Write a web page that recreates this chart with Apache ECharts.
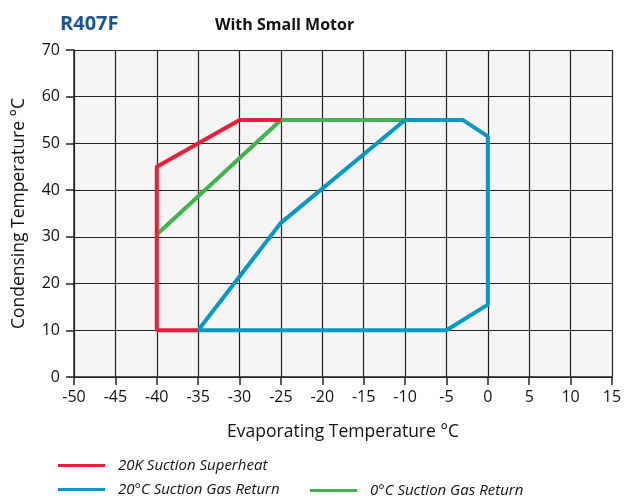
<!DOCTYPE html>
<html>
<head>
<meta charset="utf-8">
<script src="https://cdn.jsdelivr.net/npm/echarts@6/dist/echarts.min.js"></script>
<style>
  html, body { margin: 0; padding: 0; background: #fff; }
  #chart { width: 625px; height: 500px; }
</style>
</head>
<body>
<div id="chart"></div>
<script>
// envelope points [evaporating, condensing]
var superheat20K = [[-35, 10], [-40, 10], [-40, 45], [-30, 55], [-25, 55]];
var gasReturn20C = [[-35, 10], [-25, 33], [-10, 55], [-3, 55], [0, 51.5], [0, 15.5], [-5, 10], [-35, 10]];
var gasReturn0C = [[-40, 30.5], [-25, 55], [-10, 55]];

var seriesNames = ["20K Suction Superheat", "20°C Suction Gas Return", "0°C Suction Gas Return"];
var seriesColors = ["#ee1c3a", "#0399c6", "#3db54a"];

var fontFam = "'Open Sans', sans-serif";

var chart = echarts.init(document.getElementById("chart"));

function legendAt(name, left, top) {
  return {
    data: [{ name: name, icon: "rect" }],
    left: left,
    top: top,
    padding: 0,
    itemWidth: 47,
    itemHeight: 3,
    textStyle: {
      fontFamily: fontFam,
      fontSize: 15,
      fontStyle: "italic",
      color: "#111",
      padding: [0, 0, 0, 8]
    },
    selectedMode: false
  };
}

var option = {
  animation: false,
  title: [
    {
      text: "R407F",
      left: 60,
      top: 14,
      padding: 0,
      textStyle: { fontFamily: fontFam, fontSize: 20, fontWeight: "bold", color: "#1a5590" }
    },
    {
      text: "With Small Motor",
      left: 215,
      top: 17,
      padding: 0,
      textStyle: { fontFamily: fontFam, fontSize: 16, fontWeight: "bold", color: "#111" }
    }
  ],
  legend: [
    legendAt(seriesNames[0], 58, 458),
    legendAt(seriesNames[1], 58, 482),
    legendAt(seriesNames[2], 310, 483)
  ],
  grid: {
    left: 74,
    right: 13,
    top: 50,
    bottom: 123,
    show: true,
    backgroundColor: "#f5f5f5",
    borderWidth: 0
  },
  xAxis: {
    type: "value",
    min: -50,
    max: 15,
    interval: 5,
    name: "Evaporating Temperature °C",
    nameLocation: "middle",
    nameGap: 46,
    nameTextStyle: { fontFamily: fontFam, fontSize: 17.5, color: "#111" },
    axisLine: { show: true, onZero: false, lineStyle: { color: "#222", width: 1.5 } },
    axisTick: { show: true, length: 8, lineStyle: { color: "#222", width: 1.5 } },
    axisLabel: { fontFamily: fontFam, fontSize: 16, color: "#111", margin: 12 },
    splitLine: { show: true, lineStyle: { color: "#222", width: 1.2 } }
  },
  yAxis: {
    type: "value",
    min: 0,
    max: 70,
    interval: 10,
    name: "Condensing Temperature °C",
    nameLocation: "middle",
    nameGap: 46,
    nameTextStyle: { fontFamily: fontFam, fontSize: 17.5, color: "#111" },
    axisLine: { show: true, onZero: false, lineStyle: { color: "#222", width: 1.5 } },
    axisTick: { show: true, length: 8, lineStyle: { color: "#222", width: 1.5 } },
    axisLabel: { fontFamily: fontFam, fontSize: 16, color: "#111", margin: 14 },
    splitLine: { show: true, lineStyle: { color: "#222", width: 1.2 } }
  },
  series: [
    {
      name: seriesNames[2],
      type: "line",
      data: gasReturn0C,
      symbol: "none",
      color: seriesColors[2],
      lineStyle: { width: 4 },
      z: 2
    },
    {
      name: seriesNames[0],
      type: "line",
      data: superheat20K,
      symbol: "none",
      color: seriesColors[0],
      lineStyle: { width: 4 },
      z: 3
    },
    {
      name: seriesNames[1],
      type: "line",
      data: gasReturn20C,
      symbol: "none",
      color: seriesColors[1],
      lineStyle: { width: 4 },
      z: 4
    }
  ]
};

chart.setOption(option);
</script>
</body>
</html>
